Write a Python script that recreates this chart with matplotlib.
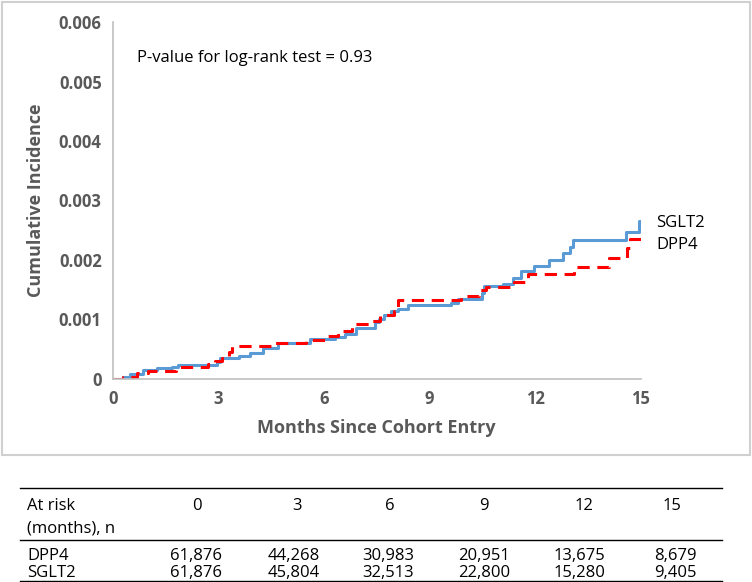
import matplotlib.pyplot as plt
from matplotlib.lines import Line2D
from matplotlib.patches import Rectangle

plt.rcParams["font.family"] = ["Open Sans", "DejaVu Sans"]

# step curves (months, cumulative incidence)
sglt2_t = [0, 0.3, 0.5, 0.86, 1.27, 1.68, 1.85, 2.95, 3.05, 3.6, 3.9, 4.27, 4.68, 5.6, 6.3, 6.6,
           6.9, 7.45, 7.55, 7.7, 7.9, 8.1, 8.4, 9.6, 9.8, 10.5, 10.55, 11.1, 11.36, 11.6,
           11.98, 12.4, 12.8, 13.0, 13.07, 14.57, 14.95, 15.0]
sglt2_y = [0, 0.00004, 0.00008, 0.00015, 0.00018, 0.0002, 0.00024, 0.00028, 0.00035, 0.00039,
           0.00043, 0.00052, 0.0006, 0.00067, 0.0007, 0.00075, 0.00086, 0.00095, 0.001, 0.00108,
           0.00114, 0.00118, 0.00124, 0.00128, 0.00135, 0.00145, 0.00156, 0.00159, 0.0017,
           0.00182, 0.0019, 0.002, 0.00212, 0.00221, 0.00234, 0.00247, 0.00265, 0.00265]

dpp4_t = [0, 0.3, 0.7, 1.0, 1.8, 2.7, 2.9, 3.1, 3.3, 3.4, 4.6, 5.5, 6.1, 6.4, 6.8, 7.3, 7.6,
          8.0, 8.1, 9.9, 10.4, 10.6, 11.4, 11.8, 13.1, 14.1, 14.6, 14.7, 15.0]
dpp4_y = [0, 0.00003, 0.0001, 0.00013, 0.0002, 0.00025, 0.0003, 0.00035, 0.00045, 0.00055,
          0.0006, 0.00065, 0.00072, 0.0008, 0.00093, 0.00098, 0.00107, 0.00115, 0.00133,
          0.0014, 0.0015, 0.00155, 0.00163, 0.00176, 0.00188, 0.00203, 0.0022, 0.00235, 0.00235]

at_risk_months = ["0", "3", "6", "9", "12", "15"]
dpp4_risk = ["61,876", "44,268", "30,983", "20,951", "13,675", "8,679"]
sglt2_risk = ["61,876", "45,804", "32,513", "22,800", "15,280", "9,405"]

gray = "#595959"
fig = plt.figure(figsize=(7.52, 5.82), dpi=100)
ax = fig.add_axes([0.150, 0.349, 0.702, 0.613])

ax.step(sglt2_t, sglt2_y, where="post", color="#5b9bd5", lw=2.2)
ax.step(dpp4_t, dpp4_y, where="post", color="#ff0000", lw=2.2, ls=(0, (4, 2.5)))

ax.set_xlim(0, 15)
ax.set_ylim(0, 0.006)
ax.set_xticks([0, 3, 6, 9, 12, 15])
ax.set_yticks([0, 0.001, 0.002, 0.003, 0.004, 0.005, 0.006])
ax.set_yticklabels(["0", "0.001", "0.002", "0.003", "0.004", "0.005", "0.006"])
for lab in ax.get_xticklabels() + ax.get_yticklabels():
    lab.set_fontweight("bold")
    lab.set_color(gray)
    lab.set_fontsize(12)
ax.tick_params(length=0, pad=8)
for s in ["top", "right"]:
    ax.spines[s].set_visible(False)
for s in ["left", "bottom"]:
    ax.spines[s].set_color("#bfbfbf")
    ax.spines[s].set_linewidth(1.2)

ax.set_xlabel("Months Since Cohort Entry", fontsize=13, fontweight="bold", color=gray, labelpad=8)
ax.set_ylabel("Cumulative Incidence", fontsize=13, fontweight="bold", color=gray, labelpad=10)
ax.text(0.7, 0.0054, "P-value for log-rank test = 0.93", fontsize=12, va="center")
ax.text(1.03, 0.00262, "SGLT2", transform=ax.get_yaxis_transform(), fontsize=12, va="center")
ax.text(1.03, 0.00226, "DPP4", transform=ax.get_yaxis_transform(), fontsize=12, va="center")

# frame around the chart
fig.patches.append(Rectangle((0.003, 0.218), 0.994, 0.778, transform=fig.transFigure,
                             fill=False, edgecolor="#d0d0d0", lw=1.5))

# at-risk table
for y in [0.1615, 0.072, 0.002]:
    fig.add_artist(Line2D([0.027, 0.960], [y, y], color="black", lw=1.0))
fig.text(0.036, 0.130, "At risk", fontsize=12, va="center")
fig.text(0.036, 0.0925, "(months), n", fontsize=12, va="center")
fig.text(0.036, 0.044, "DPP4", fontsize=12, va="center")
fig.text(0.036, 0.0155, "SGLT2", fontsize=12, va="center")
head_x = [197, 297, 390, 484, 584, 672]
val_x = [222, 320, 414, 510, 605, 697]
for i in range(6):
    fig.text(head_x[i] / 752, 0.130, at_risk_months[i], fontsize=12, va="center", ha="center")
    fig.text(val_x[i] / 752, 0.044, dpp4_risk[i], fontsize=12, va="center", ha="right")
    fig.text(val_x[i] / 752, 0.0155, sglt2_risk[i], fontsize=12, va="center", ha="right")

fig.savefig("out.png", dpi=100)
